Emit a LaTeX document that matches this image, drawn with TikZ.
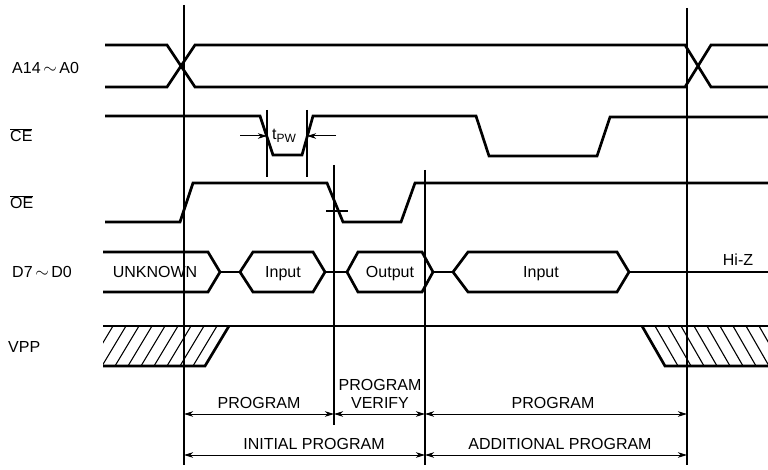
\documentclass[tikz,border=0pt]{standalone}
\usepackage{fontspec}
\setmainfont{Liberation Sans}
\usetikzlibrary{arrows.meta}
\begin{document}
\begin{tikzpicture}[x=1pt,y=-1pt,
  sig/.style={line width=2.7pt, line join=miter, line cap=butt},
  refl/.style={line width=1.1pt},
  hatchl/.style={line width=1.1pt},
  dimarr/.style={line width=1pt, {Stealth[length=9pt,width=5.5pt,inset=2.5pt]}-{Stealth[length=9pt,width=5.5pt,inset=2.5pt]}},
  onearr/.style={line width=1pt, -{Stealth[length=9pt,width=5.5pt,inset=2.5pt]}},
  lbl/.style={font=\fontsize{16}{18}\selectfont, inner sep=0pt, text height=11.5pt, text depth=0pt}]
\useasboundingbox (0,0) rectangle (768,470);

% signal names
\node[lbl, anchor=west] (nA) at (12,68) {A14\,$\sim$\,A0};
\node[lbl, anchor=west] (nCE) at (10,136) {$\overline{\mbox{CE}}$};
\node[lbl, anchor=west] (nOE) at (10,203) {$\overline{\mbox{OE}}$};
\node[lbl, anchor=west] (nD) at (12,272) {D7\,$\sim$\,D0};
\node[lbl, anchor=west] (nV) at (8,347) {VPP};

% reference lines
\coordinate (v1t) at (184,5);   \coordinate (v1b) at (184,465);
\coordinate (v2t) at (334,165); \coordinate (v2b) at (334,425);
\coordinate (v3t) at (425,170); \coordinate (v3b) at (425,465);
\coordinate (v4t) at (687,8);   \coordinate (v4b) at (687,465);
\coordinate (w1t) at (267,110); \coordinate (w1b) at (267,177);
\coordinate (w2t) at (307,110); \coordinate (w2b) at (307,177);
\draw[refl] (v1t) -- (v1b);
\draw[refl] (v2t) -- (v2b);
\draw[refl] (v3t) -- (v3b);
\draw[refl] (v4t) -- (v4b);
\draw[refl] (w1t) -- (w1b);
\draw[refl] (w2t) -- (w2b);

% A14~A0
\draw[sig] (105,45) -- (167,45) -- (195,87) -- (685,87) -- (711,45) -- (768,45);
\draw[sig] (105,87) -- (167,87) -- (195,45) -- (685,45) -- (711,87) -- (768,87);

% CE
\draw[sig] (105,116) -- (260,116) -- (273,155) -- (302,155) -- (313,116) -- (476,116)
  -- (489,156) -- (597,156) -- (610,117) -- (768,117);
\coordinate (tpwL) at (240,136); \coordinate (tpwLe) at (267,136);
\coordinate (tpwR) at (336,136); \coordinate (tpwRe) at (307,136);
\draw[onearr] (tpwL) -- (tpwLe);
\draw[onearr] (tpwR) -- (tpwRe);
\node[lbl, anchor=west] (tpw) at (272,134) {t\raisebox{-0.35ex}{\fontsize{12}{12}\selectfont PW}};

% OE
\draw[sig] (105,222) -- (180,222) -- (193,183) -- (327,183) -- (343,222) -- (401,222)
  -- (415,183) -- (768,183);
\draw[refl] (326,211) -- (348,211);

% D7~D0
\draw[sig] (103,252) -- (208,252) -- (220,272) -- (208,292) -- (103,292);
\draw[sig] (220,272) -- (240,272);
\draw[sig] (240,272) -- (253,252) -- (313,252) -- (325,272) -- (313,292) -- (253,292) -- cycle;
\draw[sig] (325,272) -- (347,272);
\draw[sig] (347,272) -- (358,252) -- (422,252) -- (433,272) -- (422,292) -- (358,292) -- cycle;
\draw[sig] (433,272) -- (453,272);
\draw[sig] (453,272) -- (468,252) -- (617,252) -- (629,272) -- (617,292) -- (468,292) -- cycle;
\draw[sig] (629,272) -- (768,272);
\node[lbl] (dU) at (155,272) {UNKNOWN};
\node[lbl] (dI1) at (283,272) {Input};
\node[lbl] (dO) at (390,272) {Output};
\node[lbl] (dI2) at (541,272) {Input};
\node[lbl] (dZ) at (738,260) {Hi-Z};

% VPP
\draw[sig] (103,326) -- (768,326);
\draw[sig] (103,366) -- (205,366) -- (229,326);
\draw[sig] (642,326) -- (665,366) -- (768,366);
\begin{scope}
  \clip (103,326) -- (229,326) -- (205,366) -- (103,366) -- cycle;
  \foreach \t in {113,126,...,240} \draw[hatchl] (\t,326) -- ++(-24,40);
\end{scope}
\begin{scope}
  \clip (642,326) -- (768,326) -- (768,366) -- (665,366) -- cycle;
  \foreach \t in {642,655,...,770} \draw[hatchl] (\t,326) -- ++(23,40);
\end{scope}

% dimension arrows
\coordinate (d1a) at (184,414); \coordinate (d1b) at (334,414);
\coordinate (d2a) at (334,414); \coordinate (d2b) at (425,414);
\coordinate (d3a) at (425,414); \coordinate (d3b) at (687,414);
\coordinate (e1a) at (184,455); \coordinate (e1b) at (425,455);
\coordinate (e2a) at (425,455); \coordinate (e2b) at (687,455);
\draw[dimarr] (d1a) -- (d1b);
\draw[dimarr] (d2a) -- (d2b);
\draw[dimarr] (d3a) -- (d3b);
\draw[dimarr] (e1a) -- (e1b);
\draw[dimarr] (e2a) -- (e2b);
\node[lbl] (t1) at (259,403) {PROGRAM};
\node[lbl] (t2a) at (380,385) {PROGRAM};
\node[lbl] (t2b) at (380,403) {VERIFY};
\node[lbl] (t3) at (553,403) {PROGRAM};
\node[lbl] (t4) at (314,444) {INITIAL PROGRAM};
\node[lbl] (t5) at (560,444) {ADDITIONAL PROGRAM};
\end{tikzpicture}
\end{document}
